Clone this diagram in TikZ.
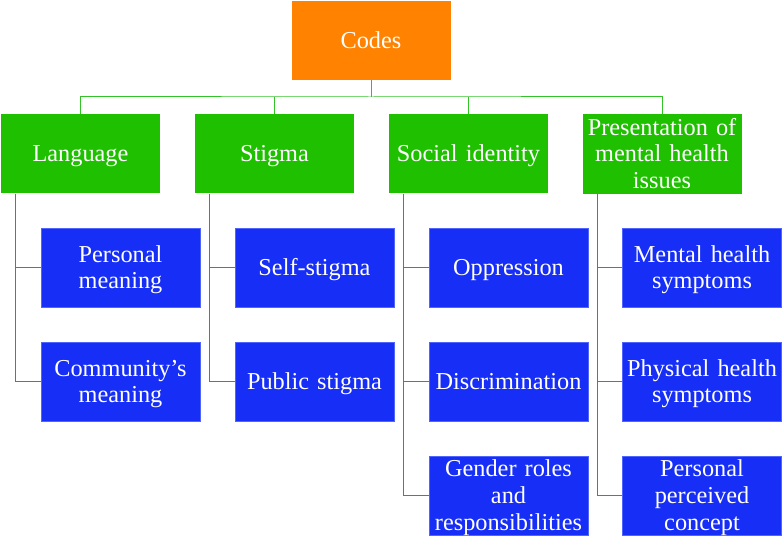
\documentclass[tikz,border=0pt]{standalone}
\usepackage{fontspec}
\setmainfont{Liberation Serif}
\definecolor{corange}{RGB}{255,130,0}
\definecolor{cgreen}{RGB}{30,192,0}
\definecolor{cblue}{RGB}{22,46,245}
\definecolor{cbluel}{RGB}{80,100,255}
\definecolor{cgline}{RGB}{50,195,40}
\begin{document}
\begin{tikzpicture}[x=1pt,y=-1pt,
  box/.style={minimum width=159pt, minimum height=79pt, inner sep=0pt, text=white,
    font=\fontsize{24.3}{26.7}\selectfont, align=center, text width=159pt},
  lone/.style={text height=21pt, text depth=5pt},
  ltwo/.style={text height=21pt, text depth=31.7pt},
  lthree/.style={text height=21pt, text depth=58.4pt},
  obox/.style={box, fill=corange},
  gbox/.style={box, fill=cgreen},
  bbox/.style={box, fill=cblue, draw=cbluel, line width=0.6pt},
  gline/.style={draw=cgline, line width=1pt},
  bline/.style={draw=cbluel, line width=1pt}]
\useasboundingbox (0,0) rectangle (783,537);
\node[obox,lone] (codes) at (371,40.5) {Codes};
\node[gbox,lone] (lang) at (80.5,154) {Language};
\node[gbox,lone] (stig) at (274.5,154) {Stigma};
\node[gbox,lone] (soc) at (468.5,154) {Social identity};
\node[gbox,lthree] (pres) at (662,154) {Presentation of\\mental health\\issues};
\node[bbox,ltwo] (pm) at (120.5,267.5) {Personal\\meaning};
\node[bbox,ltwo] (cm) at (120.5,381.5) {Community’s\\meaning};
\node[bbox,lone] (ss) at (314.5,267.5) {Self-stigma};
\node[bbox,lone] (ps) at (314.5,381.5) {Public stigma};
\node[bbox,lone] (op) at (508.5,267.5) {Oppression};
\node[bbox,lone] (di) at (508.5,381.5) {Discrimination};
\node[bbox,lthree] (gr) at (508.5,495.5) {Gender roles\\and\\responsibilities};
\node[bbox,ltwo] (mh) at (702,267.5) {Mental health\\symptoms};
\node[bbox,ltwo] (ph) at (702,381.5) {Physical health\\symptoms};
\node[bbox,lthree] (pp) at (702,495.5) {Personal\\perceived\\concept};
\coordinate (bus) at (371,97);
\draw[gline] (codes.south) -- (codes.south |- bus);
\draw[gline] (lang.north) |- (bus) -| (pres.north);
\draw[gline] (stig.north) -- (stig.north |- bus);
\draw[gline] (soc.north) -- (soc.north |- bus);
\draw[bline] ([xshift=15pt]lang.south west) |- (cm.west);
\draw[bline] ([xshift=15pt]lang.south west |- pm.west) -- (pm.west);
\draw[bline] ([xshift=15pt]stig.south west) |- (ps.west);
\draw[bline] ([xshift=15pt]stig.south west |- ss.west) -- (ss.west);
\draw[bline] ([xshift=15pt]soc.south west) |- (gr.west);
\draw[bline] ([xshift=15pt]soc.south west |- op.west) -- (op.west);
\draw[bline] ([xshift=15pt]soc.south west |- di.west) -- (di.west);
\draw[bline] ([xshift=15pt]pres.south west) |- (pp.west);
\draw[bline] ([xshift=15pt]pres.south west |- mh.west) -- (mh.west);
\draw[bline] ([xshift=15pt]pres.south west |- ph.west) -- (ph.west);
\end{tikzpicture}
\end{document}
